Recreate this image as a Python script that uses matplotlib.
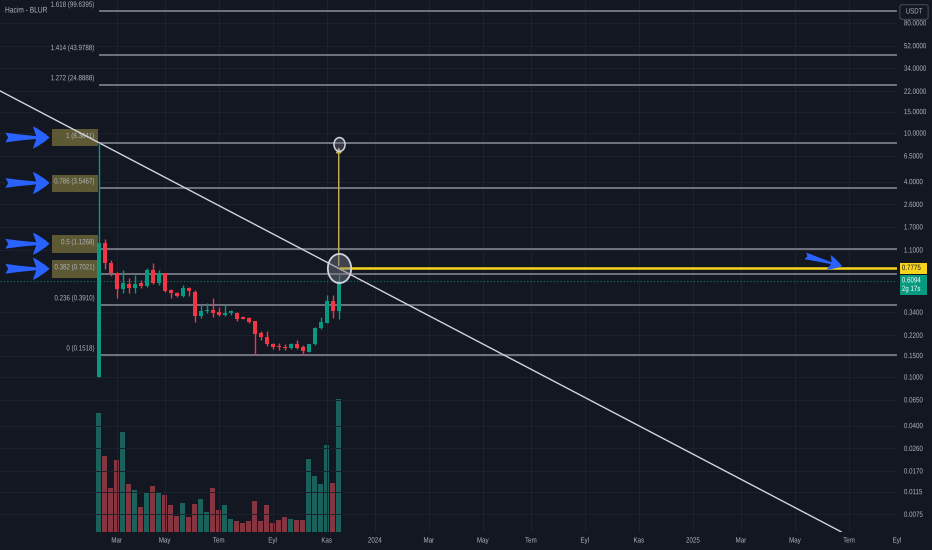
import numpy as np
import pandas as pd
import matplotlib
matplotlib.use("Agg")
import matplotlib.pyplot as plt
import matplotlib.dates as mdates
from matplotlib.path import Path
from matplotlib.patches import Rectangle
from matplotlib.patheffects import AbstractPathEffect
from matplotlib.ticker import NullLocator
from matplotlib.transforms import Affine2D

# haftalik mumlar BLUR/USDT
week_start = "2023-02-13"
opens = [0.100, 1.257, 0.862, 0.713, 0.527, 0.580, 0.537, 0.591, 0.558, 0.755,
         0.591, 0.713, 0.517, 0.489, 0.462, 0.537, 0.498, 0.317, 0.348, 0.355,
         0.342, 0.323, 0.335, 0.335, 0.311, 0.305, 0.288, 0.230, 0.213, 0.187,
         0.180, 0.177, 0.173, 0.187, 0.177, 0.161, 0.187, 0.253, 0.278, 0.421,
         0.348]
highs = [8.364, 1.356, 0.912, 0.727, 0.755, 0.649, 0.687, 0.625, 0.784, 0.862,
         0.755, 0.720, 0.527, 0.498, 0.569, 0.548, 0.517, 0.390, 0.405, 0.445,
         0.376, 0.397, 0.355, 0.342, 0.317, 0.311, 0.290, 0.239, 0.239, 0.190,
         0.190, 0.187, 0.190, 0.201, 0.183, 0.187, 0.257, 0.311, 0.471, 0.471,
         0.687]
lows = [0.100, 0.770, 0.674, 0.445, 0.489, 0.489, 0.489, 0.537, 0.548, 0.580,
        0.569, 0.498, 0.445, 0.454, 0.454, 0.462, 0.283, 0.305, 0.335, 0.311,
        0.317, 0.317, 0.323, 0.288, 0.299, 0.278, 0.1518, 0.201, 0.180, 0.170,
        0.167, 0.167, 0.170, 0.170, 0.1525, 0.161, 0.183, 0.248, 0.278, 0.305,
        0.299]
closes = [1.257, 0.862, 0.713, 0.527, 0.591, 0.537, 0.580, 0.558, 0.755, 0.591,
          0.713, 0.508, 0.489, 0.462, 0.537, 0.508, 0.317, 0.348, 0.355, 0.335,
          0.323, 0.335, 0.348, 0.299, 0.300, 0.283, 0.226, 0.213, 0.187, 0.177,
          0.177, 0.173, 0.187, 0.173, 0.164, 0.187, 0.253, 0.283, 0.421, 0.348,
          0.6094]
volumes = [119, 76, 44, 72, 100, 48, 42, 25, 40, 46,
           40, 37, 27, 16, 29, 15, 28, 33, 20, 44,
           22, 27, 13, 11, 9, 11, 31, 11, 27, 9,
           12, 15, 13, 12, 12, 73, 56, 48, 87, 49,
           133]

fib_ratios = ["1.618", "1.414", "1.272", "1", "0.786", "0.5", "0.382", "0.236", "0"]
fib_prices = [99.6395, 43.9788, 24.8888, 8.3641, 3.5467, 1.1268, 0.7021, 0.3910, 0.1518]
highlighted = ["1", "0.786", "0.5", "0.382"]

price_ticks = [80, 52, 34, 22, 15, 10, 6.5, 4.0, 2.6, 1.7, 1.1, 0.34, 0.22, 0.15,
               0.10, 0.065, 0.04, 0.026, 0.017, 0.0115, 0.0075]
month_labels = ["Mar", "May", "Tem", "Eyl", "Kas", "2024", "Mar", "May", "Tem",
                "Eyl", "Kas", "2025", "Mar", "May", "Tem", "Eyl"]

target_price = 0.7775
target_top = 8.1
last_price = 0.6094
countdown = "2g 17s"
circle_date = "2023-11-20"
trend_end = "2025-06-28"

BG = "#131722"
TXT = "#b2b5be"
UP = "#089981"
DOWN = "#f23645"
BLUE = "#2962ff"
FS = 5.5
plt.rcParams["font.family"] = ["Liberation Sans", "DejaVu Sans"]


class Condense(AbstractPathEffect):
    # yaziyi yatayda daraltir (TradingView yazisi daha dar)
    def __init__(self, sx=0.82, anchor="left"):
        super().__init__()
        self.sx = sx
        self.anchor = anchor

    def draw_path(self, renderer, gc, tpath, affine, rgbFace=None):
        xs = tpath.vertices[:, 0]
        if len(xs) == 0:
            return
        if self.anchor == "right":
            x0 = xs.max()
        elif self.anchor == "center":
            x0 = (xs.min() + xs.max()) / 2
        else:
            x0 = xs.min()
        t = Affine2D().translate(-x0, 0).scale(self.sx, 1).translate(x0, 0) + affine
        renderer.draw_path(gc, tpath, t, rgbFace)


def narrow(anchor="left"):
    return [Condense(0.81, anchor)]


dates = mdates.date2num(pd.date_range(week_start, periods=len(opens), freq="7D"))
o, h, l, c = map(np.array, (opens, highs, lows, closes))
up = c >= o
colors = np.where(up, UP, DOWN)

fig = plt.figure(figsize=(9.32, 5.5), dpi=100, facecolor=BG)
ax2 = fig.add_axes([0, 18 / 550, 897 / 932, 532 / 550])
ax = fig.add_axes([0, 18 / 550, 897 / 932, 532 / 550], sharex=ax2)
ax2.set_facecolor(BG)
ax.patch.set_visible(False)

x_left = mdates.date2num(pd.Timestamp("2022-10-21"))
x_right = mdates.date2num(pd.Timestamp("2025-09-01"))

# hacim
vol_colors = np.where(up, "#22ab94", "#f7525f")
ax2.bar(dates, volumes, width=5.4, color=vol_colors, alpha=0.5, linewidth=0)
ax2.set_ylim(0, max(volumes) * 532 / 133)
ax2.set_yticks([])
for s in ax2.spines.values():
    s.set_visible(False)

ax.set_yscale("log")
ax.set_ylim(0.005375, 123.3)
ax.set_xlim(x_left, x_right)

# fib seviyeleri
for r, p in zip(fib_ratios, fib_prices):
    ax.hlines(p, dates[0], x_right, color="#787b86", lw=1.3, zorder=2)
    if r in highlighted:
        ax.add_patch(Rectangle((dates[0] - 54, p * 0.93), 53, p * (1.29 - 0.93),
                               facecolor="#5d5934", edgecolor="none", zorder=2))
    ax.annotate(f"{r} ({p:.4f})", xy=(dates[0], p), xytext=(-3, 1.8),
                textcoords="offset points", ha="right", va="bottom",
                color=TXT, fontsize=FS, zorder=3, path_effects=narrow("right"))

# trend cizgisi
d_circle = mdates.date2num(pd.Timestamp(circle_date))
slope = (np.log10(target_price) - np.log10(fib_prices[3])) / (d_circle - dates[0])
tx = np.array([x_left, mdates.date2num(pd.Timestamp(trend_end))])
ty = 10 ** (np.log10(fib_prices[3]) + slope * (tx - dates[0]))
ax.plot(tx, ty, color="#d1d4dc", lw=1.0, zorder=4)

# mumlar
ax.vlines(dates, l, h, color=colors, lw=1.0, zorder=5)
bottom = np.minimum(o, c)
top = np.maximum(np.maximum(o, c), bottom * 1.02)
ax.bar(dates, top - bottom, bottom=bottom, width=4.6, color=colors, linewidth=0, zorder=6)

# son fiyat cizgisi
ax.axhline(last_price, color=UP, ls=(0, (1, 2)), lw=0.8, alpha=0.8, zorder=3)

# hedef
ax.hlines(target_price, d_circle, x_right, color="#f7d51d", lw=1.8, zorder=7)
ax.annotate("", xy=(d_circle, target_top), xytext=(d_circle, target_price),
            arrowprops=dict(arrowstyle="-|>,head_width=0.15,head_length=0.3",
                            color="#c8b45a", lw=1.0), zorder=7)
ell = Path.unit_circle().transformed(Affine2D().scale(0.8, 1.0))
ax.plot([d_circle], [target_price], marker=ell, markersize=21, ls="none",
        mfc=(0.47, 0.48, 0.53, 0.45), mec="#d1d4dc", mew=1.3, zorder=8)
ax.plot([d_circle], [target_top], marker=ell, markersize=10, ls="none",
        mfc=(0.47, 0.48, 0.53, 0.35), mec="#d1d4dc", mew=1.1, zorder=8)

# mavi oklar
arrow_style = "fancy,head_length=1.2,head_width=1.6,tail_width=0.7"
for r, p in zip(fib_ratios, fib_prices):
    if r in highlighted:
        ax.annotate("", xy=(dates[0] - 54, p * 1.1), xytext=(x_left + 3, p * 1.1),
                    arrowprops=dict(arrowstyle=arrow_style, color=BLUE, lw=0),
                    zorder=9)
ax.annotate("", xy=(mdates.date2num(pd.Timestamp("2025-07-02")), 0.80),
            xytext=(mdates.date2num(pd.Timestamp("2025-05-14")), 1.0),
            arrowprops=dict(arrowstyle="fancy,head_length=1.0,head_width=1.1,tail_width=0.5",
                            color=BLUE, lw=0), zorder=9)

# eksenler
ax.yaxis.tick_right()
ax.set_yticks(price_ticks)
ax.set_yticklabels([f"{v:.4f}" for v in price_ticks])
ax.yaxis.set_minor_locator(NullLocator())
# etiketler ayin ilk haftalik mumunda (pazartesi)
month_starts = pd.date_range("2023-03-01", periods=len(month_labels), freq="2MS")
first_bars = [d + pd.Timedelta(days=(7 - d.weekday()) % 7) for d in month_starts]
ax.set_xticks(mdates.date2num(first_bars))
ax.set_xticklabels(month_labels)
ax.tick_params(axis="both", length=0, colors=TXT, labelsize=FS)
ax.tick_params(axis="y", pad=5)
ax.tick_params(axis="x", pad=4)
for lbl in ax.get_yticklabels():
    lbl.set_path_effects(narrow("left"))
for lbl in ax.get_xticklabels():
    lbl.set_path_effects(narrow("center"))
ax2.tick_params(axis="x", length=0, labelbottom=False)
ax.grid(True, color="#1e222d", lw=0.7)
ax2.grid(False)
for s in ax.spines.values():
    s.set_visible(False)
ax.axvline(x_right, color="#2a2e39", lw=0.8)

# fiyat etiketleri
ax.annotate(f"{target_price:.4f}", xy=(1, target_price), xycoords=("axes fraction", "data"),
            xytext=(3.5, 0), textcoords="offset points", ha="left", va="center",
            fontsize=FS, color=BG, annotation_clip=False, zorder=10,
            path_effects=narrow("left"),
            bbox=dict(facecolor="#f7d51d", edgecolor="none", pad=1.6))
ax.annotate(f"{last_price:.4f}\n{countdown}", xy=(1, last_price * 0.93),
            xycoords=("axes fraction", "data"), xytext=(3.5, 0), textcoords="offset points",
            ha="left", va="center", fontsize=FS, color="white", linespacing=1.3,
            annotation_clip=False, zorder=10, path_effects=narrow("left"),
            bbox=dict(facecolor=UP, edgecolor="none", pad=1.6))

fig.text(5 / 932, 1 - 11 / 550, "Hacim - BLUR", color=TXT, fontsize=FS + 0.4, va="center",
         path_effects=narrow("left"))
fig.text(914 / 932, 1 - 12 / 550, "USDT", color=TXT, fontsize=FS, ha="center", va="center",
         zorder=10, path_effects=narrow("center"),
         bbox=dict(boxstyle="round,pad=0.5,rounding_size=0.3",
                   facecolor=BG, edgecolor="#434651", lw=0.8))

fig.savefig("out.png", dpi=100, facecolor=BG)
